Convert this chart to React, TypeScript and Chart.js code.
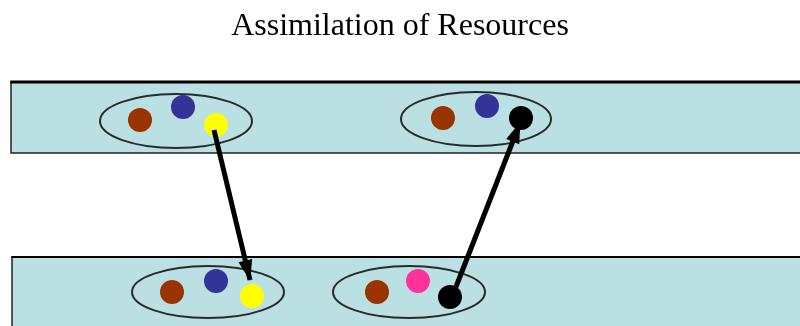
import React, { useEffect, useRef } from "react";
import { Chart, registerables } from "chart.js";

Chart.register(...registerables);

const TITLE = "Assimilation of Resources";
const TITLE_H = 50;

// Bands (rows) in diagram coordinates
const bandLeft = [11, 12];
const bandRight = [805, 805];
const bandTop = [82, 257];
const bandBottom = [153, 335];
const bandTopWidth = [3, 2];

// Ellipses (groups)
const ellCX = [176, 476, 208, 409];
const ellCY = [121, 119, 292, 292];
const ellRX = [76, 75, 76, 76];
const ellRY = [27, 27, 26, 26];

// Resource dots
const dotX = [140, 183, 216, 443, 487, 521, 172, 216, 252, 377, 418, 450];
const dotY = [120, 107, 125, 118, 106, 118, 292, 281, 296, 292, 281, 297];
const dotColor = [
  "#993300", "#333399", "#ffff00",
  "#993300", "#333399", "#000000",
  "#993300", "#333399", "#ffff00",
  "#993300", "#ff3399", "#000000",
];

// Arrows (start -> tip)
const arrow1X = [214, 250];
const arrow1Y = [130, 280];
const arrow2X = [452, 520];
const arrow2Y = [297, 123];

const BAND_FILL = "#bbe0e3";

const diagramPlugin = {
  id: "diagram",
  beforeDatasetsDraw(chart: any) {
    const { ctx, scales } = chart;
    const xs = scales.x;
    const ys = scales.y;
    ctx.save();
    for (let i = 0; i < bandLeft.length; i++) {
      const x0 = xs.getPixelForValue(bandLeft[i]);
      const x1 = xs.getPixelForValue(bandRight[i]);
      const y0 = ys.getPixelForValue(bandTop[i]);
      const y1 = ys.getPixelForValue(bandBottom[i]);
      ctx.fillStyle = BAND_FILL;
      ctx.fillRect(x0, y0, x1 - x0, y1 - y0);
      ctx.strokeStyle = "#222";
      ctx.lineWidth = 1.5;
      ctx.beginPath();
      ctx.moveTo(x1, y1);
      ctx.lineTo(x0, y1);
      ctx.lineTo(x0, y0);
      ctx.stroke();
      ctx.strokeStyle = "#000";
      ctx.lineWidth = bandTopWidth[i];
      ctx.beginPath();
      ctx.moveTo(x0 - 0.75, y0);
      ctx.lineTo(x1, y0);
      ctx.stroke();
    }
    ctx.strokeStyle = "#2a2a2a";
    ctx.lineWidth = 2;
    for (let i = 0; i < ellCX.length; i++) {
      const cx = xs.getPixelForValue(ellCX[i]);
      const cy = ys.getPixelForValue(ellCY[i]);
      const rx = Math.abs(xs.getPixelForValue(ellCX[i] + ellRX[i]) - cx);
      const ry = Math.abs(ys.getPixelForValue(ellCY[i] + ellRY[i]) - cy);
      ctx.beginPath();
      ctx.ellipse(cx, cy, rx, ry, 0, 0, Math.PI * 2);
      ctx.stroke();
    }
    ctx.restore();
  },
  afterDatasetsDraw(chart: any) {
    const { ctx } = chart;
    ctx.save();
    ctx.fillStyle = "#000";
    chart.data.datasets.forEach((ds: any, i: number) => {
      if (!ds.isArrow) return;
      const pts = chart.getDatasetMeta(i).data;
      if (pts.length < 2) return;
      const a = pts[pts.length - 2];
      const b = pts[pts.length - 1];
      const ang = Math.atan2(b.y - a.y, b.x - a.x);
      const len = 20;
      const hw = 7;
      const bx = b.x - Math.cos(ang) * len;
      const by = b.y - Math.sin(ang) * len;
      const px = -Math.sin(ang) * hw;
      const py = Math.cos(ang) * hw;
      ctx.beginPath();
      ctx.moveTo(b.x + Math.cos(ang) * 1, b.y + Math.sin(ang) * 1);
      ctx.lineTo(bx + px, by + py);
      ctx.lineTo(bx - px, by - py);
      ctx.closePath();
      ctx.fill();
    });
    ctx.restore();
  },
};

export default function App() {
  const ref = useRef<HTMLCanvasElement>(null);
  useEffect(() => {
    if (!ref.current) return;
    const chart = new Chart(ref.current, {
      type: "scatter",
      data: {
        datasets: [
          {
            type: "line",
            isArrow: true,
            data: arrow1X.map((x, i) => ({ x, y: arrow1Y[i] })),
            borderColor: "#000",
            borderWidth: 5,
            pointRadius: 0,
            order: 0,
          } as any,
          {
            type: "line",
            isArrow: true,
            data: arrow2X.map((x, i) => ({ x, y: arrow2Y[i] })),
            borderColor: "#000",
            borderWidth: 5,
            pointRadius: 0,
            order: 0,
          } as any,
          {
            type: "scatter",
            data: dotX.map((x, i) => ({ x, y: dotY[i] })),
            pointBackgroundColor: dotColor,
            pointBorderWidth: 0,
            pointBorderColor: dotColor,
            pointRadius: 12,
            order: 1,
          } as any,
        ],
      },
      options: {
        animation: false,
        responsive: false,
        layout: { padding: 0, autoPadding: false },
        scales: {
          x: { type: "linear", min: 0, max: 800, display: false },
          y: { type: "linear", min: TITLE_H, max: 326, reverse: true, display: false },
        },
        plugins: {
          legend: { display: false },
          tooltip: { enabled: false },
          title: {
            display: true,
            text: TITLE,
            color: "#000",
            font: { family: "'Liberation Serif', 'Times New Roman', serif", size: 32, weight: "normal", lineHeight: 1.2 },
            padding: { top: 7, bottom: TITLE_H - 7 - 38.4 },
          },
        },
      },
      plugins: [diagramPlugin],
    } as any);
    return () => chart.destroy();
  }, []);
  return (
    <div style={{ position: "fixed", left: 0, top: 0, width: 800, height: 326, background: "#fff" }}>
      <canvas ref={ref} width={800} height={326} style={{ display: "block" }} />
    </div>
  );
}
